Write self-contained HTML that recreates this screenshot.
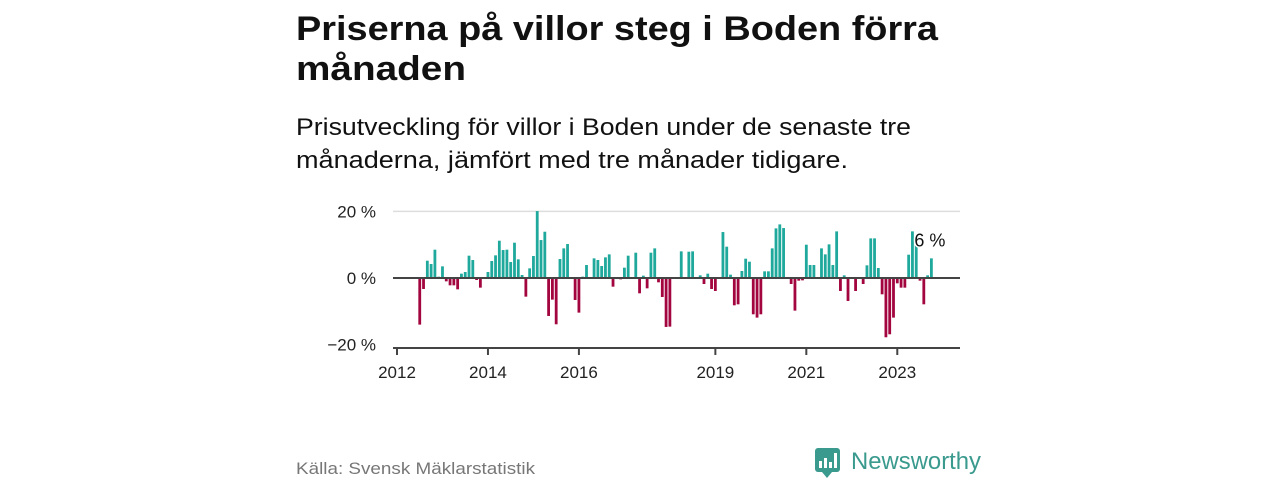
<!DOCTYPE html>
<html><head><meta charset="utf-8"><style>
html,body{margin:0;padding:0;background:#fff;width:1280px;height:480px;overflow:hidden}
svg{display:block;font-family:"Liberation Sans","DejaVu Sans",sans-serif}
</style></head><body>
<svg id="chart" width="1280" height="480">
<text x="296" y="40" font-size="34" font-weight="bold" fill="#111" textLength="642" lengthAdjust="spacingAndGlyphs">Priserna på villor steg i Boden förra</text>
<text x="296" y="80" font-size="34" font-weight="bold" fill="#111" textLength="170" lengthAdjust="spacingAndGlyphs">månaden</text>
<text x="296" y="135" font-size="24" fill="#111" textLength="615" lengthAdjust="spacingAndGlyphs">Prisutveckling för villor i Boden under de senaste tre</text>
<text x="296" y="168" font-size="24" fill="#111" textLength="552" lengthAdjust="spacingAndGlyphs">månaderna, jämfört med tre månader tidigare.</text>
<g id="plot"></g>
<text x="296" y="474" font-size="17" fill="#777" textLength="239" lengthAdjust="spacingAndGlyphs">Källa: Svensk Mäklarstatistik</text>
<g>
<rect x="815" y="448" width="25" height="24" rx="3" fill="#3a9a8e"/>
<polygon points="822,472 832,472 827,478" fill="#3a9a8e"/>
<rect x="819" y="461" width="3" height="7" fill="#fff"/><rect x="824" y="458" width="3" height="10" fill="#fff"/><rect x="829" y="462" width="3" height="6" fill="#fff"/><rect x="834" y="453" width="3" height="15" fill="#fff"/>
<text x="851" y="469" font-size="24" fill="#3a9a8e" textLength="130" lengthAdjust="spacingAndGlyphs">Newsworthy</text>
</g>
</svg>
<script>
const startMonth = 6; // Jul 2012, months since Jan 2012
const values = [-14,-3.3,5.2,4.2,8.5,0.4,3.5,-1,-2.2,-2.2,-3.4,1.3,1.8,6.7,5.4,-0.6,-2.9,0,1.8,5.1,6.8,11.2,8.4,8.5,4.8,10.6,5.6,0.9,-5.6,2.9,6.6,20.1,11.4,13.9,-11.4,-6.5,-13.9,5.7,8.9,10.2,0,-6.6,-10.4,0.4,3.9,
0,5.9,5.4,3.6,6.2,7.1,-2.6,0,-0.4,3.1,6.7,0,7.6,-4.6,0.7,-3.1,7.6,8.9,-1.3,-5.7,-14.7,-14.6,0,0,8,0,7.9,8,0,0.8,-1.8,1.3,-3.3,-3.9,0,13.8,9.4,1,-8.2,-7.9,2.1,5.8,4.9,-10.9,-11.9,-10.9,2,2,
8.9,14.9,16.1,15,0,-1.8,-9.8,-0.8,-0.7,10,3.9,3.9,0,8.9,7.1,10.1,3.9,14,-3.9,0.8,-6.9,0,-3.9,0,-1.8,3.8,11.9,11.9,3,-4.9,-17.8,-16.9,-11.9,-1.6,-2.9,-2.9,7,14,10.9,-0.8,-7.9,0.8,5.9];
const yTicks = [20, 0, -20];
const yTickLabels = ["20 %", "0 %", "\u221220 %"];
const xTickYears = [2012, 2014, 2016, 2019, 2021, 2023];
const lastLabel = "6 %";

const NS = "http://www.w3.org/2000/svg";
const plot = document.getElementById("plot");
const X0 = 397, PXM = 3.79, Y0 = 278, PXP = 3.33, L = 393, R = 960;
const xs = m => X0 + m * PXM;
const ys = v => Y0 - v * PXP;
function mk(tag, attrs){const e=document.createElementNS(NS,tag);for(const k in attrs)e.setAttribute(k,attrs[k]);plot.appendChild(e);return e;}

yTicks.forEach((t,i)=>{
  if (t !== 0 && t > -20) {
    const g = mk("line",{x1:L,x2:R,y1:ys(t),y2:ys(t),stroke:"#ddd","stroke-width":1.5});
    
    
  }
  const lb = mk("text",{x:376,y:ys(t)+6,"font-size":17,"text-anchor":"end",fill:"#222"});
  lb.textContent = yTickLabels[i];
  
  
});

values.forEach((v,i)=>{
  const cx = xs(startMonth + i);
  const y = v >= 0 ? ys(v) : Y0;
  const h = Math.abs(v) * PXP;
  const b = mk("rect",{x:cx-1.4,y:y,width:2.8,height:h,fill:v>=0?"#1fa89c":"#a3063f"});
  
  
});

const zl = mk("line",{x1:L,x2:R,y1:Y0,y2:Y0,stroke:"#444","stroke-width":2});


const ax = mk("line",{x1:L,x2:R,y1:348,y2:348,stroke:"#444","stroke-width":2});



xTickYears.forEach(yr=>{
  const x = xs((yr-2012)*12);
  const t = mk("line",{x1:x,x2:x,y1:348,y2:355,stroke:"#444","stroke-width":2});
  
  
  const lb = mk("text",{x:x,y:378,"font-size":17,"text-anchor":"middle",fill:"#222"});
  lb.textContent = yr;
  
  
});

const lastX = xs(startMonth + values.length - 1);
const ll = mk("text",{x:lastX-17,y:ys(values[values.length-1])-12,"font-size":18,fill:"#111",stroke:"#fff","stroke-width":3,"paint-order":"stroke"});
ll.textContent = lastLabel;


</script>
</body></html>
